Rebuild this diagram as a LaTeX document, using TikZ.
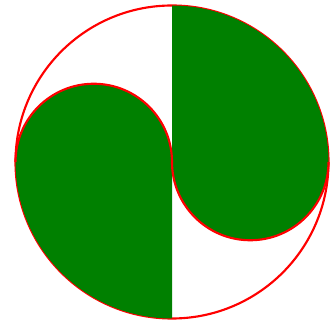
\documentclass[tikz,border=0pt]{standalone}
\definecolor{leafgreen}{RGB}{0,128,0}
\definecolor{edgered}{RGB}{255,0,0}
\begin{document}
\begin{tikzpicture}[x=0.75pt,y=0.75pt,
  edge/.style={draw=edgered,line width=1.6pt},
  leaf/.style={fill=leafgreen}]
\useasboundingbox (0,0) rectangle (336,325);
\coordinate (C) at (172,163);
% outer circle
\draw[edge] (C) circle[radius=156.5];
% right leaf
\fill[leaf] (172,319.5) arc[start angle=90,end angle=0,radius=156.5]
  arc[start angle=0,end angle=-180,radius=78.25] -- cycle;
% left leaf
\fill[leaf] (172,6.5) arc[start angle=270,end angle=180,radius=156.5]
  arc[start angle=180,end angle=0,radius=78.25] -- cycle;
% red edges of the small half circles
\draw[edge] (328.5,163) arc[start angle=0,end angle=-180,radius=78.25];
\draw[edge] (15.5,163) arc[start angle=180,end angle=0,radius=78.25];
\end{tikzpicture}
\end{document}
